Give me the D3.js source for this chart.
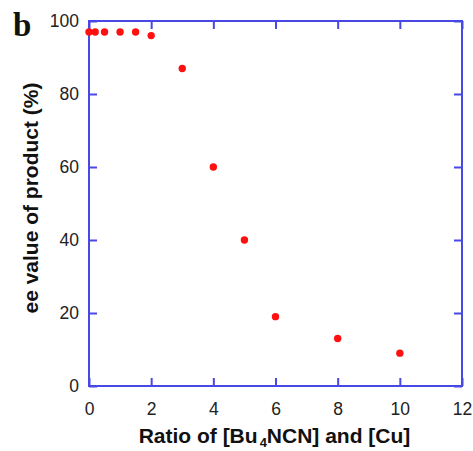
<!DOCTYPE html>
<html><head><meta charset="utf-8">
<script src="https://cdn.jsdelivr.net/npm/d3@7"></script>
<style>body{margin:0;background:#fff}svg{display:block}</style>
</head><body>
<svg id="c" width="473" height="451"></svg>
<script>
const ratios = [0, 0.2, 0.5, 1, 1.5, 2, 3, 4, 5, 6, 8, 10];
const eeValues = [97, 97, 97, 97, 97, 96, 87, 60, 40, 19, 13, 9];
const xTicks = [0, 2, 4, 6, 8, 10, 12];
const yTicks = [0, 20, 40, 60, 80, 100];

const svg = d3.select("#c");
const L = 89, R = 462, T = 21, B = 386;
const x = d3.scaleLinear().domain([0, 12]).range([L, R]);
const y = d3.scaleLinear().domain([0, 100]).range([B, T]);
const axisColor = "#4848e4";
const tl = 8;

svg.append("rect").attr("x", L).attr("y", T).attr("width", R - L).attr("height", B - T)
  .attr("fill", "none").attr("stroke", axisColor).attr("stroke-width", 2);

const gx = svg.append("g").attr("transform", `translate(0,${B})`)
  .call(d3.axisBottom(x).tickValues(xTicks).tickSize(-tl).tickPadding(tl + 9).tickFormat(d3.format("d")));
const gxt = svg.append("g").attr("transform", `translate(0,${T})`)
  .call(d3.axisTop(x).tickValues(xTicks).tickSize(-tl).tickFormat(""));
const gy = svg.append("g").attr("transform", `translate(${L},0)`)
  .call(d3.axisLeft(y).tickValues(yTicks).tickSize(-tl).tickPadding(tl + 2).tickFormat(d3.format("d")));
const gyr = svg.append("g").attr("transform", `translate(${R},0)`)
  .call(d3.axisRight(y).tickValues(yTicks).tickSize(-tl).tickFormat(""));

[gx, gxt, gy, gyr].forEach(g => {
  g.select(".domain").remove();
  g.selectAll(".tick line").attr("stroke", axisColor).attr("stroke-width", 2);
  g.selectAll("text").attr("fill", "#222").style("font-family", "Liberation Sans, Arial, sans-serif").style("font-size", "17.5px");
});

svg.append("g").selectAll("circle").data(ratios).join("circle")
  .attr("cx", d => x(d)).attr("cy", (d, i) => y(eeValues[i])).attr("r", 3.7).attr("fill", "#ff1010");

const xt = svg.append("text").attr("x", (L + R) / 2 - 1).attr("y", 443).attr("text-anchor", "middle")
  .style("font-family", "Liberation Sans, Arial, sans-serif").style("font-size", "21px").style("font-weight", "bold").attr("fill", "#111");
xt.append("tspan").text("Ratio of [Bu");
xt.append("tspan").attr("dy", 4).attr("dx", 2).style("font-size", "13px").text("4");
xt.append("tspan").attr("dy", -4).text("NCN] and [Cu]");

svg.append("text").attr("transform", `translate(38,198) rotate(-90)`).attr("text-anchor", "middle")
  .style("font-family", "Liberation Sans, Arial, sans-serif").style("font-size", "21px").style("font-weight", "bold").attr("fill", "#111")
  .text("ee value of product (%)");

svg.append("text").attr("x", 13).attr("y", 36)
  .style("font-family", "Liberation Serif, Times New Roman, serif").style("font-size", "33px").style("font-weight", "bold").attr("fill", "#111")
  .text("b");
</script>
</body></html>
